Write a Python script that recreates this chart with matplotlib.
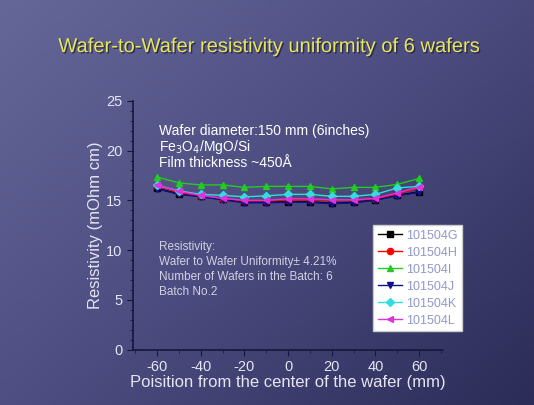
import numpy as np
import matplotlib.pyplot as plt
import matplotlib.patheffects as pe
from matplotlib.colors import LinearSegmentedColormap

plt.rcParams['font.family'] = ['Liberation Sans', 'DejaVu Sans']
plt.rcParams['axes.unicode_minus'] = False

# positions across the wafer (mm)
pos = [-60, -50, -40, -30, -20, -10, 0, 10, 20, 30, 40, 50, 60]

# resistivity (mOhm cm) for each wafer
w_G = [16.2, 15.65, 15.4, 15.1, 14.8, 14.8, 14.85, 14.85, 14.7, 14.8, 15.05, 15.5, 15.85]
w_H = [16.45, 15.8, 15.4, 15.15, 14.95, 14.95, 15.05, 15.05, 15.0, 15.0, 15.15, 15.65, 16.25]
w_I = [17.35, 16.75, 16.55, 16.55, 16.3, 16.4, 16.4, 16.4, 16.15, 16.3, 16.3, 16.6, 17.2]
w_J = [16.15, 15.6, 15.35, 15.05, 14.75, 14.75, 14.8, 14.8, 14.65, 14.75, 15.0, 15.45, 15.8]
w_K = [16.5, 15.95, 15.6, 15.5, 15.35, 15.45, 15.6, 15.6, 15.4, 15.4, 15.6, 16.25, 16.4]
w_L = [16.55, 15.9, 15.5, 15.2, 15.0, 15.0, 15.15, 15.15, 15.05, 15.05, 15.2, 15.75, 16.35]

names = ['101504G', '101504H', '101504I', '101504J', '101504K', '101504L']
series = [w_G, w_H, w_I, w_J, w_K, w_L]
colors = ['black', 'red', '#22cc22', '#101090', '#33dddd', '#dd33dd']
markers = ['s', 'o', '^', 'v', 'D', '<']

fig = plt.figure(figsize=(5.34, 4.05), dpi=100)

# slide background gradient
bg = fig.add_axes([0, 0, 1, 1], zorder=-10)
gx, gy = np.meshgrid(np.linspace(0, 1, 200), np.linspace(0, 1, 150))
grad = 0.55 * gx + 0.45 * gy
cmap = LinearSegmentedColormap.from_list('slide', ['#666799', '#4c4c80', '#2c2c58'])
bg.imshow(grad, cmap=cmap, aspect='auto', extent=[0, 1, 0, 1], origin='upper')
bg.axis('off')

ax = fig.add_axes([0.249, 0.137, 0.581, 0.614])
ax.patch.set_alpha(0)
for s, n, c, m in zip(series, names, colors, markers):
    ax.plot(pos, s, color=c, marker=m, markersize=4.5, linewidth=1, label=n)

ax.set_xlim(-71, 71)
ax.set_ylim(0, 25)
ax.set_xticks([-60, -40, -20, 0, 20, 40, 60])
ax.set_xticks(np.arange(-70, 71, 10), minor=True)
ax.set_yticks([0, 5, 10, 15, 20, 25])
ax.set_yticks(np.arange(0, 26, 1), minor=True)
for sp in ['top', 'right']:
    ax.spines[sp].set_visible(False)
for sp in ['left', 'bottom']:
    ax.spines[sp].set_color('#161640')
    ax.spines[sp].set_linewidth(1.2)
ax.tick_params(which='both', colors='#161640', labelcolor='#e4e4f2', labelsize=10.5)
ax.tick_params(which='major', length=4)
ax.tick_params(which='minor', length=2)

ax.set_xlabel('Poisition from the center of the wafer (mm)', color='#e4e4f2', fontsize=12, labelpad=1)
ax.set_ylabel('Resistivity (mOhm cm)', color='#e4e4f2', fontsize=12, labelpad=2)

title = fig.text(0.505, 0.885, 'Wafer-to-Wafer resistivity uniformity of 6 wafers',
                 color='#e6e65a', fontsize=14.5, ha='center', va='center')
title.set_path_effects([pe.withSimplePatchShadow(offset=(1, -1), shadow_rgbFace='#222240', alpha=0.8)])

fig.text(0.298, 0.677, 'Wafer diameter:150 mm (6inches)', color='white', fontsize=10, va='center')
fig.text(0.298, 0.637, r'Fe$_3$O$_4$/MgO/Si', color='white', fontsize=10, va='center')
fig.text(0.298, 0.597, 'Film thickness ~450Å', color='white', fontsize=10, va='center')

info = ['Resistivity:', 'Wafer to Wafer Uniformity± 4.21%',
        'Number of Wafers in the Batch: 6', 'Batch No.2']
for i, t in enumerate(info):
    fig.text(0.298, 0.39 - i * 0.037, t, color='#d0d0e4', fontsize=8.5, va='center')

leg = ax.legend(loc='upper left', bbox_to_anchor=(0.755, 0.525), fontsize=9,
                frameon=True, fancybox=False, framealpha=1, handlelength=1.9,
                borderpad=0.35, labelspacing=0.4, handletextpad=0.35)
leg.get_frame().set_facecolor('white')
leg.get_frame().set_edgecolor('#cccccc')
for t in leg.get_texts():
    t.set_color('#9098c8')

fig.savefig('out.png', dpi=100)
